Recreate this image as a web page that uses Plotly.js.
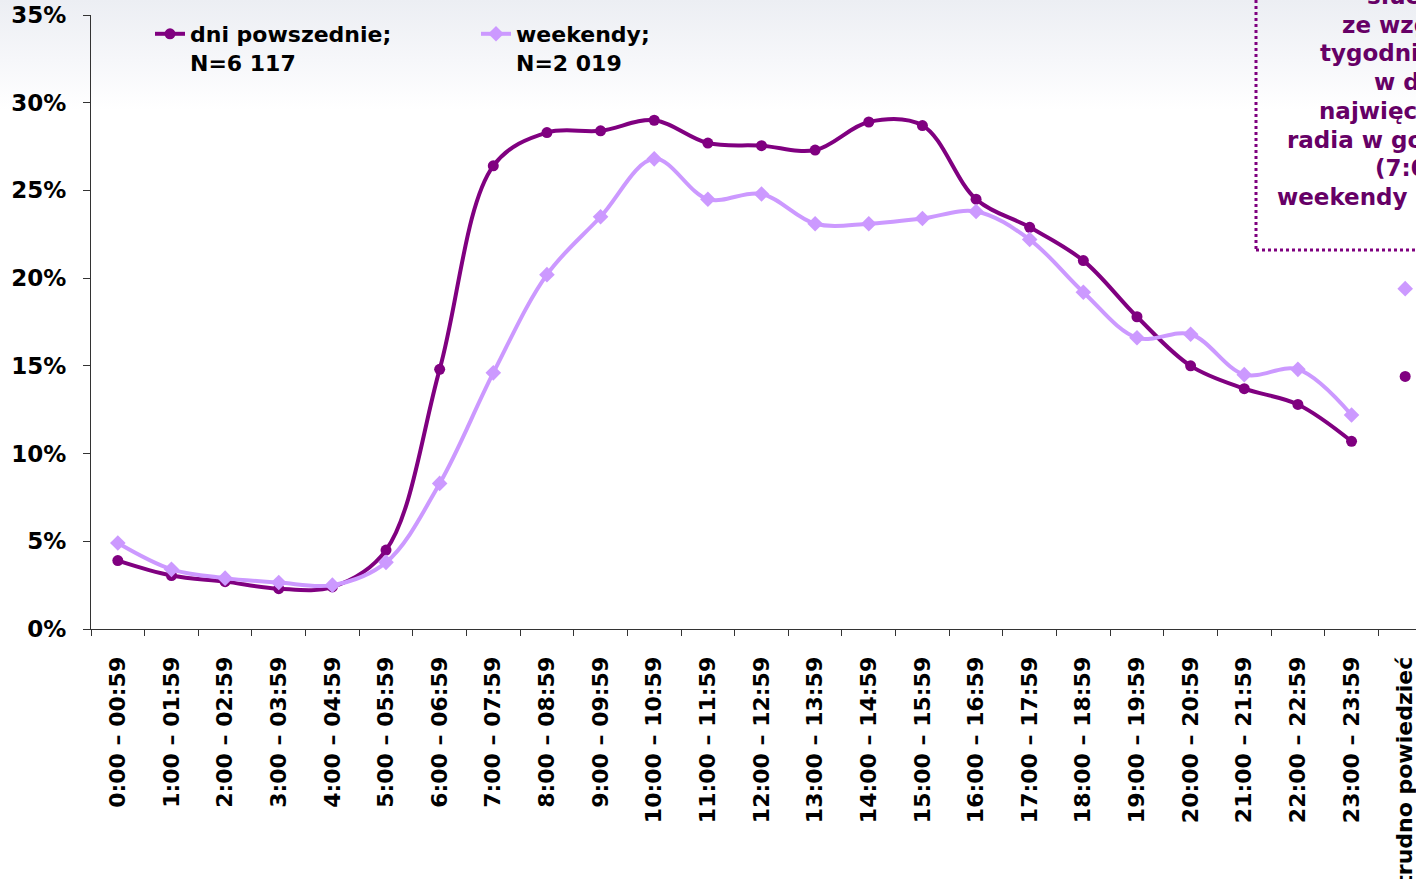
<!DOCTYPE html>
<html>
<head>
<meta charset="utf-8">
<script src="https://cdn.plot.ly/plotly-3.0.1.min.js"></script>
<style>
  html, body { margin:0; padding:0; overflow:hidden; width:1416px; height:879px;
    background: linear-gradient(to bottom, #eceef3 0px, #f6f7fa 60px, #ffffff 110px); }
  #chart { width:1460px; height:879px; }
</style>
</head>
<body>
<div id="chart"></div>
<script>
const hours = ["0:00 – 00:59","1:00 – 01:59","2:00 – 02:59","3:00 – 03:59","4:00 – 04:59","5:00 – 05:59",
  "6:00 – 06:59","7:00 – 07:59","8:00 – 08:59","9:00 – 09:59","10:00 – 10:59","11:00 – 11:59",
  "12:00 – 12:59","13:00 – 13:59","14:00 – 14:59","15:00 – 15:59","16:00 – 16:59","17:00 – 17:59",
  "18:00 – 18:59","19:00 – 19:59","20:00 – 20:59","21:00 – 21:59","22:00 – 22:59","23:00 – 23:59"];
const extraCat = "trudno powiedzieć";

const weekdays = [3.9,3.05,2.7,2.3,2.4,4.5,14.8,26.4,28.3,28.4,29.0,27.7,27.55,27.3,28.9,28.7,24.5,22.9,21.0,17.8,15.0,13.7,12.8,10.7];
const weekends = [4.9,3.4,2.9,2.65,2.5,3.8,8.3,14.6,20.2,23.5,26.8,24.5,24.8,23.1,23.1,23.4,23.8,22.2,19.2,16.6,16.8,14.5,14.8,12.2];
const weekdaysHard = 14.4;
const weekendsHard = 19.4;

const nameWeekdays = "dni powszednie;<br>N=6 117";
const nameWeekends = "weekendy;<br>N=2 019";

const noteLines = ["słuchalności","ze względu na dzień","tygodnia – największa","w dni robocze",
  "najwięcej słuchaczy","radia w godzinach porannych","(7:00 – 10:00),","weekendy – w godz. 10:00 – 11:00"];
const noteStarts = [1365,1340,1318,1372,1317,1285,1373,1275];

const dark = "#800080", light = "#cc99ff", noteColor = "#660066";
const L = 91, T = 15, PW = 1341, PH = 614;
const px2x = p => (p - L) / PW;
const py2y = p => (T + PH - p) / PH;

const traces = [
  {x: hours, y: weekdays, name: nameWeekdays, type: "scatter", mode: "lines+markers",
   line: {color: dark, width: 4, shape: "spline", smoothing: 1},
   marker: {symbol: "circle", size: 11, color: dark}},
  {x: hours, y: weekends, name: nameWeekends, type: "scatter", mode: "lines+markers",
   line: {color: light, width: 4, shape: "spline", smoothing: 1},
   marker: {symbol: "diamond", size: 12, color: light}},
  {x: [extraCat], y: [weekdaysHard], type: "scatter", mode: "markers", showlegend: false,
   marker: {symbol: "circle", size: 11, color: dark}},
  {x: [extraCat], y: [weekendsHard], type: "scatter", mode: "markers", showlegend: false,
   marker: {symbol: "diamond", size: 12, color: light}}
];

const fam = "DejaVu Sans, Verdana, sans-serif";
const annotations = noteLines.map((t, i) => ({
  text: "<b>" + t + "</b>", xref: "paper", yref: "paper",
  x: px2x(noteStarts[i]), y: py2y(4 + 28.7 * i - 8), xanchor: "left", yanchor: "middle",
  showarrow: false, font: {family: fam, size: 23, color: noteColor}
}));

const layout = {
  width: 1460, height: 879,
  margin: {l: L, r: 1460 - L - PW, t: T, b: 879 - T - PH},
  paper_bgcolor: "rgba(0,0,0,0)", plot_bgcolor: "rgba(0,0,0,0)",
  font: {family: fam, size: 21, color: "#000", weight: "bold"},
  showlegend: true,
  legend: {orientation: "h", x: px2x(150), y: py2y(13), xanchor: "left", yanchor: "top",
    bgcolor: "rgba(0,0,0,0)", valign: "top", entrywidth: 281,
    font: {family: fam, size: 22, color: "#000", weight: "bold"}},
  xaxis: {type: "category", categoryorder: "array", categoryarray: hours.concat([extraCat]),
    range: [-0.5, 24.5], showline: true, linecolor: "#333", linewidth: 1,
    ticks: "outside", ticklen: 6, tickcolor: "#333", tickson: "boundaries",
    tickangle: -90, ticklabelstandoff: 18, showgrid: false, zeroline: false,
    tickfont: {family: fam, size: 22, color: "#000", weight: "bold"}},
  yaxis: {range: [0, 35], dtick: 5, tick0: 0, ticksuffix: "%", showline: true, linecolor: "#333",
    linewidth: 1, ticks: "outside", ticklen: 7, tickcolor: "#333", showgrid: false, zeroline: false,
    ticklabelstandoff: 12,
    tickfont: {family: fam, size: 23, color: "#000", weight: "bold"}},
  shapes: [{type: "rect", xref: "paper", yref: "paper",
    x0: px2x(1256), x1: px2x(1800), y0: py2y(250), y1: py2y(-30),
    line: {color: "#7f007f", width: 3, dash: "dot"}, fillcolor: "rgba(0,0,0,0)"}],
  annotations: annotations
};

Plotly.newPlot("chart", traces, layout, {displayModeBar: false, staticPlot: true});
</script>
</body>
</html>
